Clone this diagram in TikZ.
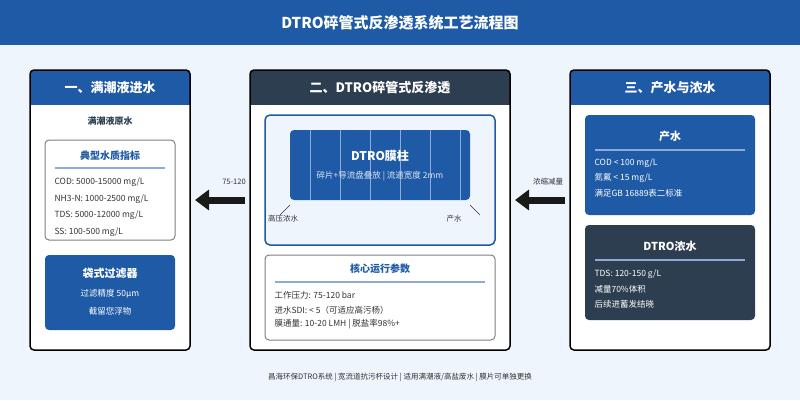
\documentclass[tikz,border=0pt]{standalone}
\usepackage{fontspec}
\setmainfont{Noto Sans CJK SC}
\usetikzlibrary{positioning, arrows.meta}
\definecolor{bgblue}{HTML}{EEF5FC}
\definecolor{mainblue}{HTML}{1F5AA6}
\definecolor{darkslate}{HTML}{2C3E50}
\definecolor{lineblue}{HTML}{8EAAD6}
\definecolor{txtgray}{HTML}{333333}
\begin{document}
\begin{tikzpicture}[x=1pt, y=-1pt, font=\fontsize{9}{11}\selectfont]
    \tikzstyle{panel} = [draw=black, line width=1.5pt, fill=white, rounded corners=4pt]
    \tikzstyle{head} = [text=white, font=\fontsize{13}{15}\selectfont\bfseries]
    \tikzstyle{infobox} = [draw=gray, line width=1pt, fill=white, rounded corners=4pt]
    \tikzstyle{bluebox} = [fill=mainblue, rounded corners=4pt]
    \tikzstyle{darkbox} = [fill=darkslate, rounded corners=4pt]
    \tikzstyle{boxtitle} = [font=\fontsize{10}{12}\selectfont\bfseries]
    \tikzstyle{row} = [anchor=west, text=txtgray, font=\fontsize{8.5}{10}\selectfont]
    \tikzstyle{wrow} = [text=white, font=\fontsize{8.5}{10}\selectfont]
    \tikzstyle{bigarrow} = [draw=black!90, line width=7pt, -{Triangle[length=14pt, width=20pt]}]
    \useasboundingbox (0,0) rectangle (800,400);
    \fill[bgblue] (0,0) rectangle (800,400);
    \fill[mainblue] (0,0) rectangle (800,45);
    \node[text=white, font=\fontsize{15}{18}\selectfont\bfseries] (title) at (400,23) {DTRO碎管式反渗透系统工艺流程图};
    % panels
    \foreach \xa/\xb/\hc in {30/190/mainblue, 250/510/darkslate, 570/770/mainblue} {
        \begin{scope}
            \clip[rounded corners=4pt] (\xa,70) rectangle (\xb,350);
            \fill[white] (\xa,70) rectangle (\xb,350);
            \fill[\hc] (\xa,70) rectangle (\xb,105);
        \end{scope}
        \draw[line width=1.5pt, rounded corners=4pt] (\xa,70) rectangle (\xb,350);
    }
    \node[head] (h1) at (110,88) {一、满潮液进水};
    \node[head] (h2) at (380,88) {二、DTRO碎管式反渗透};
    \node[head] (h3) at (670,88) {三、产水与浓水};
    % left
    \node[text=darkslate, font=\fontsize{9}{11}\selectfont\bfseries] (raw) at (110,121) {满潮液原水};
    \draw[infobox] (45,140) rectangle (175,240);
    \node[boxtitle, text=mainblue] (quality) at (110,156) {典型水质指标};
    \draw[lineblue, line width=1.5pt] (55,168) -- (165,168);
    \node[row] (cod) at (51,182) {COD: 5000-15000 mg/L};
    \node[row] (nh3) at (51,199) {NH3-N: 1000-2500 mg/L};
    \node[row] (tds) at (51,215) {TDS: 5000-12000 mg/L};
    \node[row] (ss) at (51,232) {SS: 100-500 mg/L};
    \fill[bluebox] (45,255) rectangle (175,330);
    \node[boxtitle, text=white, font=\fontsize{11}{13}\selectfont\bfseries] (filter) at (110,273) {袋式过滤器};
    \node[wrow] (prec) at (110,294) {过滤精度 50μm};
    \node[wrow] (susp) at (110,311) {截留您浮物};
    % middle
    \draw[mainblue, line width=1.5pt, rounded corners=5pt, fill=bgblue] (265,115) rectangle (495,245);
    \fill[bluebox] (290,130) rectangle (470,200);
    \foreach \x in {310,340,...,460}
        \draw[lineblue, line width=1pt] (\x,130) -- (\x,200);
    \node[text=white, font=\fontsize{12}{14}\selectfont\bfseries] (column) at (380,156) {DTRO膜柱};
    \node[text=white!85!mainblue, font=\fontsize{8.5}{10}\selectfont] (disc) at (380,176) {碎片+导流盘叠放 | 流道宽度 2mm};
    \node[text=txtgray, font=\fontsize{7.5}{9}\selectfont] (conc) at (283,219) {高压浓水};
    \node[text=txtgray, font=\fontsize{7.5}{9}\selectfont] (perm) at (454,219) {产水};
    \draw[txtgray, thin] (290,205) -- (280,215);
    \draw[txtgray, thin] (470,205) -- (480,215);
    \draw[infobox] (265,255) rectangle (495,340);
    \node[boxtitle, text=mainblue] (params) at (380,269) {核心运行参数};
    \draw[lineblue, line width=1.5pt] (275,282) -- (485,282);
    \node[row] (press) at (271,295) {工作压力: 75-120 bar};
    \node[row] (sdi) at (271,310) {进水SDI: < 5（可适应高污杨）};
    \node[row] (flux) at (271,324) {膜通量: 10-20 LMH | 脱盐率98\%+};
    % right
    \fill[bluebox] (585,115) rectangle (755,215);
    \node[boxtitle, text=white, font=\fontsize{11}{13}\selectfont\bfseries] (prod) at (670,136) {产水};
    \draw[lineblue, line width=1.5pt] (595,150) -- (745,150);
    \node[wrow, anchor=west] (pcod) at (591,163) {COD < 100 mg/L};
    \node[wrow, anchor=west] (pnh) at (591,178) {氮氟 < 15 mg/L};
    \node[wrow, anchor=west] (pstd) at (591,193) {满足GB 16889表二标准};
    \fill[darkbox] (585,225) rectangle (755,320);
    \node[boxtitle, text=white, font=\fontsize{11}{13}\selectfont\bfseries] (brine) at (670,246) {DTRO浓水};
    \draw[lineblue, line width=1.5pt] (595,260) -- (745,260);
    \node[wrow, anchor=west] (btds) at (591,274) {TDS: 120-150 g/L};
    \node[wrow, anchor=west] (bred) at (591,289) {减量70\%体积};
    \node[wrow, anchor=west] (bevap) at (591,304) {后续进蓄发结晓};
    % arrows
    \coordinate (a1s) at (245,200);
    \coordinate (a1e) at (195,200);
    \coordinate (a2s) at (565,200);
    \coordinate (a2e) at (515,200);
    \draw[bigarrow] (a1s) -- (a1e);
    \draw[bigarrow] (a2s) -- (a2e);
    \node[text=txtgray, font=\fontsize{7.5}{9}\selectfont] (l1) at (234,182) {75-120};
    \node[text=txtgray, font=\fontsize{7.5}{9}\selectfont] (l2) at (548,182) {浓缩减量};
    % footer
    \node[text=txtgray, font=\fontsize{7.5}{9}\selectfont] (foot) at (400,377) {昌海环保DTRO系统 | 宽流道抗污杯设计 | 适用满潮液/高盐废水 | 膜片可单独更换};
\end{tikzpicture}
\end{document}
